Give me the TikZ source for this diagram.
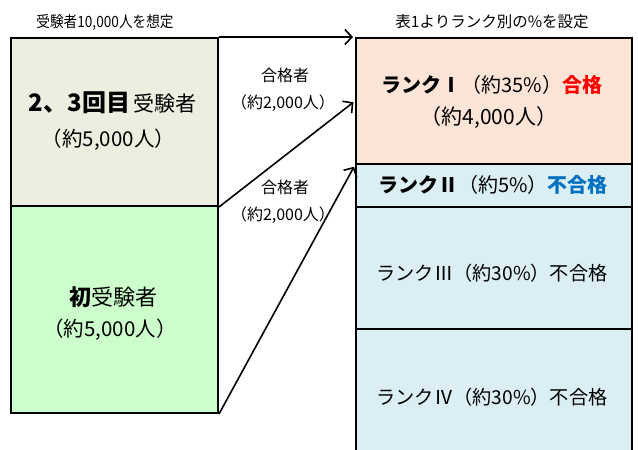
\documentclass[tikz,border=0pt]{standalone}
\usepackage{fontspec}
\setmainfont{Noto Sans CJK JP}
\newfontfamily\narrowjp{Noto Sans CJK JP}[FakeStretch=0.88]
\usetikzlibrary{arrows.meta}
\definecolor{leftA}{RGB}{236,238,224}
\definecolor{leftB}{RGB}{204,255,204}
\definecolor{rankA}{RGB}{252,228,214}
\definecolor{rankB}{RGB}{218,238,243}
\definecolor{passred}{RGB}{255,0,0}
\definecolor{failblue}{RGB}{0,112,192}
\tikzset{
  box/.style={draw=black, line width=2pt, rectangle, inner sep=0pt},
  txt/.style={inner sep=0pt, text=black, anchor=center},
  conn/.style={line width=1.6pt, -{Straight Barb[length=7pt,width=15pt,line width=1.6pt]}, shorten >=2pt},
}
\newcommand{\fsz}[1]{\fontsize{#1}{#1}\selectfont}
\begin{document}
\begin{tikzpicture}[x=1pt,y=-1pt]
\useasboundingbox (0,0) rectangle (638,450);
\clip (0,0) rectangle (638,450);
% left boxes
\node[box, fill=leftA, minimum width=207pt, minimum height=168pt] (L1) at (114.5,122) {};
\node[box, fill=leftB, minimum width=207pt, minimum height=207pt] (L2) at (114.5,309.5) {};
% right boxes
\node[box, fill=rankA, minimum width=276pt, minimum height=126pt] (R1) at (494,101) {};
\node[box, fill=rankB, minimum width=276pt, minimum height=43pt] (R2) at (494,185.5) {};
\node[box, fill=rankB, minimum width=276pt, minimum height=122pt] (R3) at (494,268) {};
\node[box, fill=rankB, minimum width=276pt, minimum height=136pt] (R4) at (494,397) {};
% captions
\node[txt, font=\narrowjp\fsz{15.5}] (capL) at (105,22) {受験者10,000人を想定};
\node[txt, font=\fsz{15.5}] (capR) at (492,22) {表1よりランク別の\%を設定};
% left texts
\node[txt, font=\fsz{21}] (L1a) at (112.5,103) {{\fsz{24}\textbf{2、3回目}}\hspace{3pt}受験者};
\node[txt, font=\fsz{20.5}] (L1b) at (108.5,140) {（約5,000人）};
\node[txt, font=\fsz{22}] (L2a) at (113,297) {\textbf{初}受験者};
\node[txt, font=\fsz{20.5}] (L2b) at (110,330) {（約5,000人）};
% right texts
\node[txt, font=\fsz{20}] (R1a) at (492,85) {\textbf{ランクⅠ}（約35\%）\textbf{\textcolor{passred}{合格}}};
\node[txt, font=\fsz{21}] (R1b) at (489,118) {（約4,000人）};
\node[txt, font=\fsz{20}] (R2a) at (493,185) {\textbf{ランクⅡ}（約5\%）\textbf{\textcolor{failblue}{不合格}}};
\node[txt, font=\fsz{19.2}] (R3a) at (492,273) {ランクⅢ（約30\%）不合格};
\node[txt, font=\fsz{19.2}] (R4a) at (492,397) {ランクⅣ（約30\%）不合格};
% connectors
\draw[conn] (L1.north east) -- (R1.north west);
\draw[conn] (L1.south east) -- (R1.west);
\draw[conn] (L2.south east) -- (R1.south west);
% connector labels
\node[txt, font=\fsz{16}] (lab1a) at (285,75) {合格者};
\node[txt, font=\fsz{16}] (lab1b) at (283,103) {（約2,000人）};
\node[txt, font=\fsz{16}] (lab2a) at (285,187) {合格者};
\node[txt, font=\fsz{16}] (lab2b) at (283,215) {（約2,000人）};
\end{tikzpicture}
\end{document}
